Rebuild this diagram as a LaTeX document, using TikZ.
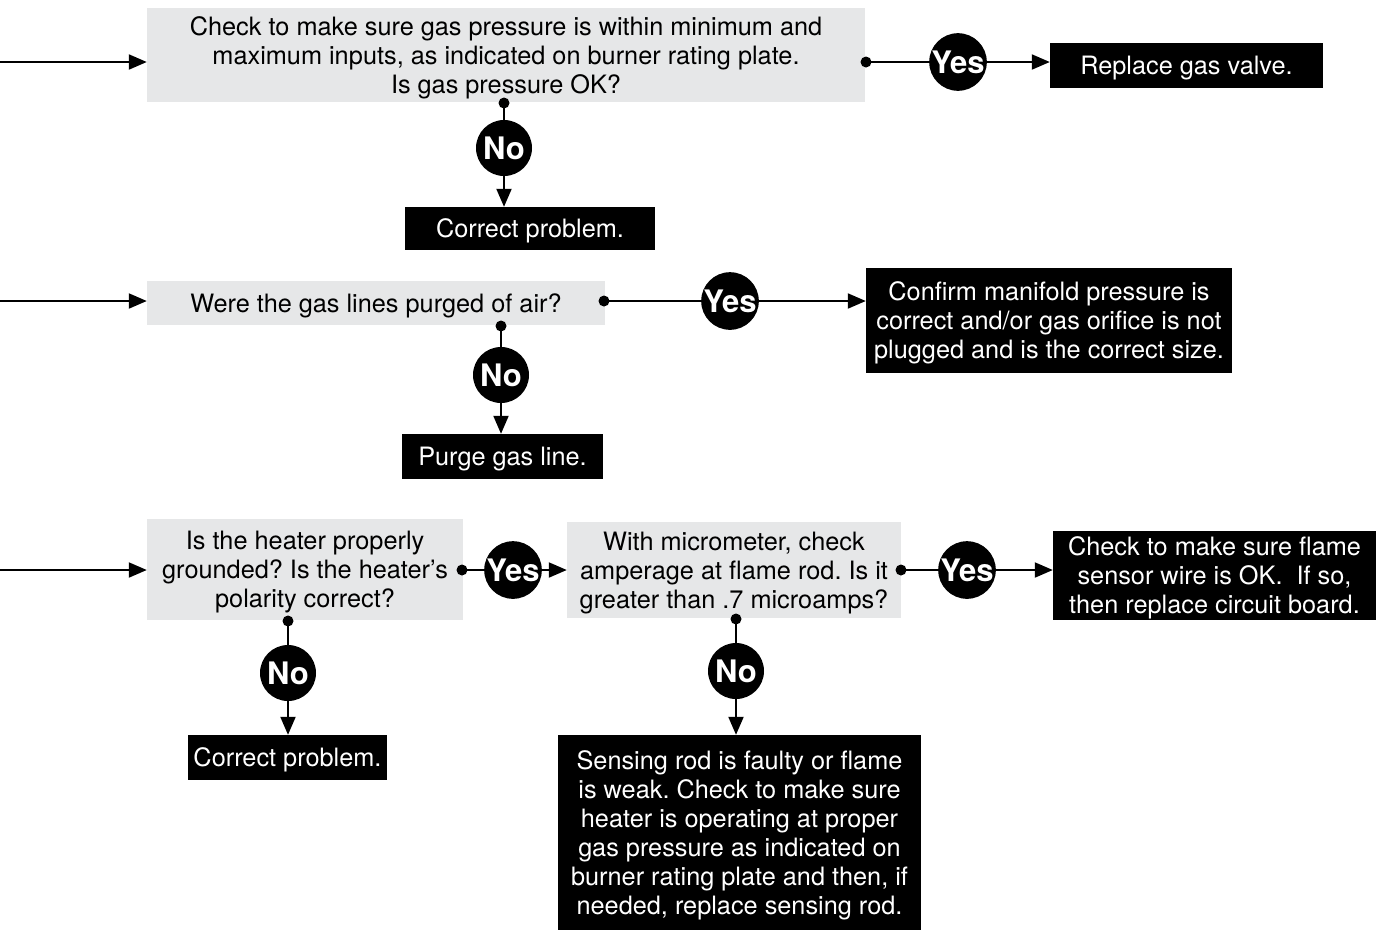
\documentclass[tikz,border=0pt]{standalone}
\usepackage{fontspec}
\setmainfont{TeX Gyre Heros}
\usetikzlibrary{arrows.meta}
\definecolor{qgrey}{HTML}{E6E7E8}
\tikzset{
  qbox/.style={rectangle, fill=qgrey, inner sep=0pt, align=center, text=black, text depth=0pt},
  abox/.style={rectangle, fill=black, inner sep=0pt, align=center, text=white, text depth=0pt},
  yn/.style={circle, fill=black, minimum size=56pt, inner sep=0pt, text=white,
    font=\fontsize{31}{31}\selectfont\bfseries},
  conn/.style={line width=2pt, draw=black},
  arr/.style={conn, -{Triangle[length=18pt,width=15pt]}},
  dotc/.style={fill=black}
}
\frenchspacing
\begin{document}
\begin{tikzpicture}[x=1pt,y=-1pt, font=\fontsize{25.3}{29}\selectfont]
\useasboundingbox (0,0) rectangle (1376,930);
% Row 1
\node[qbox, minimum width=718pt, minimum height=94pt] (q1) at (506,55) {Check to make sure gas pressure is within minimum and\\maximum inputs, as indicated on burner rating plate.\\Is gas pressure OK?};
\node[abox, minimum width=273pt, minimum height=45pt] (a1) at (1186.5,65.5) {Replace gas valve.};
\node[abox, minimum width=250pt, minimum height=43pt] (b1) at (530,228.5) {Correct problem.};
\coordinate (s1) at (0,62);
\coordinate (d1) at (866,62);
\coordinate (e1) at (504,103);
\draw[arr] (s1) -- (s1 -| q1.west);
\draw[conn] (d1) -- (958,62) coordinate (ym1);
\node[yn] (y1) at (ym1) {Yes};
\draw[arr] (y1.east) -- (y1.east -| a1.west);
\draw[conn] (e1) -- (504,148) coordinate (nm1);
\node[yn] (n1) at (nm1) {No};
\draw[arr] (n1.south) -- (n1.south |- b1.north);
\fill[dotc] (d1) circle (5.5pt);
\fill[dotc] (e1) circle (5.5pt);
% Row 2
\node[qbox, minimum width=458pt, minimum height=44pt] (q2) at (376,303) {Were the gas lines purged of air?};
\node[abox, minimum width=366pt, minimum height=105pt] (a2) at (1049,320.5) {Confirm manifold pressure is\\correct and/or gas orifice is not\\plugged and is the correct size.};
\node[abox, minimum width=201pt, minimum height=45pt] (b2) at (502.5,456.5) {Purge gas line.};
\coordinate (s2) at (0,301);
\coordinate (d2) at (604,301);
\coordinate (e2) at (501,326);
\draw[arr] (s2) -- (s2 -| q2.west);
\draw[conn] (d2) -- (730,301) coordinate (ym2);
\node[yn] (y2) at (ym2) {Yes};
\draw[arr] (y2.east) -- (y2.east -| a2.west);
\draw[conn] (e2) -- (501,375) coordinate (nm2);
\node[yn] (n2) at (nm2) {No};
\draw[arr] (n2.south) -- (n2.south |- b2.north);
\fill[dotc] (d2) circle (5.5pt);
\fill[dotc] (e2) circle (5.5pt);
% Row 3
\node[qbox, minimum width=316pt, minimum height=101pt] (q3) at (305,569.5) {Is the heater properly\\grounded? Is the heater's\\polarity correct?};
\node[qbox, minimum width=334pt, minimum height=96pt] (q4) at (734,570) {With micrometer, check\\amperage at flame rod. Is it\\greater than .7 microamps?};
\node[abox, minimum width=323pt, minimum height=89pt] (a3) at (1214.5,575.5) {Check to make sure flame\\sensor wire is OK.\ \ If so,\\then replace circuit board.};
\node[abox, minimum width=199pt, minimum height=45pt] (b3) at (287.5,757.5) {Correct problem.};
\node[abox, minimum width=363pt, minimum height=195pt] (b4) at (739.5,832.5) {Sensing rod is faulty or flame\\is weak. Check to make sure\\heater is operating at proper\\gas pressure as indicated on\\burner rating plate and then, if\\needed, replace sensing rod.};
\coordinate (s3) at (0,570);
\coordinate (d3) at (462,570);
\coordinate (d4) at (901,570);
\coordinate (e3) at (288,621);
\coordinate (e4) at (736,619);
\draw[arr] (s3) -- (s3 -| q3.west);
\draw[conn] (d3) -- (513,570) coordinate (ym3);
\node[yn] (y3) at (ym3) {Yes};
\draw[arr] (y3.east) -- (y3.east -| q4.west);
\draw[conn] (d4) -- (967,570) coordinate (ym4);
\node[yn] (y4) at (ym4) {Yes};
\draw[arr] (y4.east) -- (y4.east -| a3.west);
\draw[conn] (e3) -- (288,673) coordinate (nm3);
\node[yn] (n3) at (nm3) {No};
\draw[arr] (n3.south) -- (n3.south |- b3.north);
\draw[conn] (e4) -- (736,671) coordinate (nm4);
\node[yn] (n4) at (nm4) {No};
\draw[arr] (n4.south) -- (n4.south |- b4.north);
\fill[dotc] (d3) circle (5.5pt);
\fill[dotc] (d4) circle (5.5pt);
\fill[dotc] (e3) circle (5.5pt);
\fill[dotc] (e4) circle (5.5pt);
\end{tikzpicture}
\end{document}
